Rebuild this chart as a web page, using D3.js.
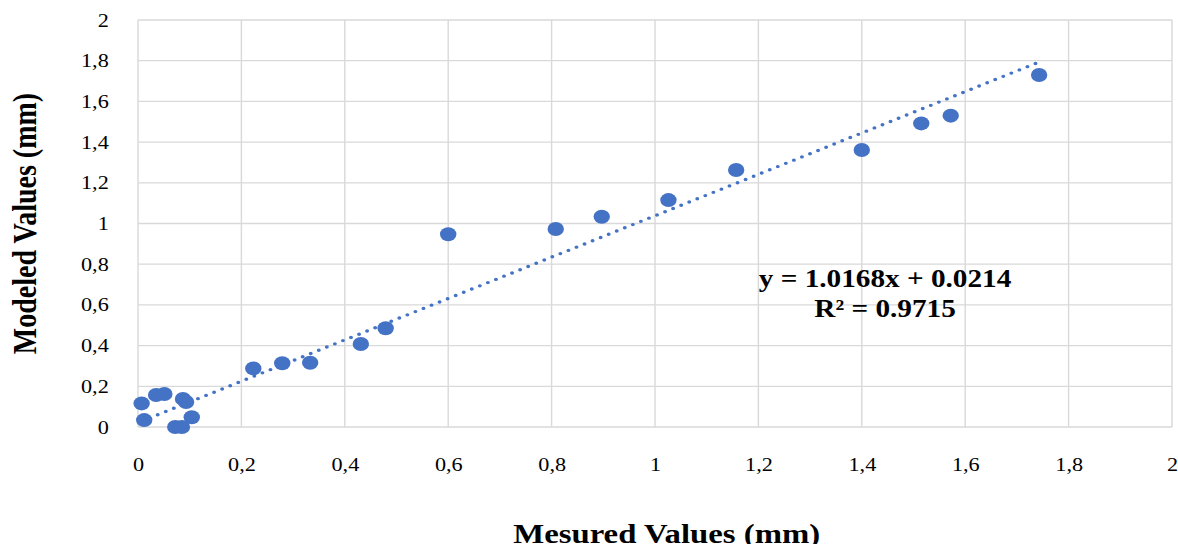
<!DOCTYPE html>
<html>
<head>
<meta charset="utf-8">
<script src="https://cdn.jsdelivr.net/npm/d3@7"></script>
<style>
  body { margin: 0; background: #fff; }
  svg { display: block; }
  text { font-family: "Liberation Serif", "Times New Roman", serif; fill: #000; }
</style>
</head>
<body>
<script>
// measured vs modeled (mm)
var measured = [0.007, 0.012, 0.035, 0.051, 0.072, 0.085, 0.087, 0.093, 0.104,
                0.223, 0.279, 0.333, 0.431, 0.479, 0.600, 0.808, 0.897, 1.026,
                1.157, 1.400, 1.515, 1.572, 1.743];
var modeled  = [0.116, 0.034, 0.157, 0.162, 0, 0, 0.138, 0.123, 0.048,
                0.288, 0.313, 0.316, 0.408, 0.485, 0.947, 0.973, 1.033, 1.115,
                1.263, 1.361, 1.492, 1.530, 1.730];
var xTicks = [0, 0.2, 0.4, 0.6, 0.8, 1, 1.2, 1.4, 1.6, 1.8, 2];
var yTicks = [0, 0.2, 0.4, 0.6, 0.8, 1, 1.2, 1.4, 1.6, 1.8, 2];
var slope = 1.0168, intercept = 0.0214, r2 = 0.9715;

var w = 1178, h = 544;
var sx = 1.17;   // the original picture is stretched sideways
var serif = "'Liberation Serif', 'Times New Roman', serif";

var x = d3.scaleLinear().domain([0, 2]).range([138 / sx, 1172 / sx]);
var y = d3.scaleLinear().domain([0, 2]).range([427, 20]);
var fmt = function(d){ return String(d).replace(".", ","); };

var svg = d3.select("body").append("svg")
    .attr("width", w)
    .attr("height", h)
    .attr("font-family", serif);

var g = svg.append("g").attr("transform", "scale(" + sx + ",1)");

// grid
g.selectAll(".vgrid")
    .data(xTicks)
    .enter().append("line")
    .attr("x1", function(d){ return x(d); })
    .attr("x2", function(d){ return x(d); })
    .attr("y1", y(0)).attr("y2", y(2))
    .attr("stroke", "#d9d9d9").attr("stroke-width", 1.2);

g.selectAll(".hgrid")
    .data(yTicks)
    .enter().append("line")
    .attr("x1", x(0)).attr("x2", x(2))
    .attr("y1", function(d){ return y(d); })
    .attr("y2", function(d){ return y(d); })
    .attr("stroke", "#d9d9d9").attr("stroke-width", 1.3);

// axes (labels only)
var xAxis = d3.axisBottom(x).tickValues(xTicks).tickFormat(fmt).tickSize(0).tickPadding(31);
var yAxis = d3.axisLeft(y).tickValues(yTicks).tickFormat(fmt).tickSize(0).tickPadding(25);

g.append("g")
    .attr("transform", "translate(0," + y(0) + ")")
    .call(xAxis)
    .call(function(s){ s.select(".domain").remove(); })
    .selectAll("text")
    .style("font-size", "19px")
    .style("font-family", serif);

g.append("g")
    .attr("transform", "translate(" + x(0) + ",0)")
    .call(yAxis)
    .call(function(s){ s.select(".domain").remove(); })
    .selectAll("text")
    .style("font-size", "19px")
    .style("font-family", serif);

// trendline
var x0 = d3.min(measured), x1 = d3.max(measured);
g.append("line")
    .attr("x1", x(x0)).attr("y1", y(slope * x0 + intercept))
    .attr("x2", x(x1)).attr("y2", y(slope * x1 + intercept))
    .attr("stroke", "#4472c4")
    .attr("stroke-width", 3.4)
    .attr("stroke-linecap", "round")
    .attr("stroke-dasharray", "0 7.6");

// points
g.selectAll(".pt")
    .data(measured)
    .enter().append("circle")
    .attr("class", "pt")
    .attr("cx", function(d){ return x(d); })
    .attr("cy", function(d, i){ return y(modeled[i]); })
    .attr("r", 7)
    .attr("fill", "#4472c4");

// equation
g.append("text")
    .attr("x", x(1.445)).attr("y", y(0.688))
    .attr("text-anchor", "middle")
    .style("font-size", "25px").style("font-weight", "bold")
    .text("y = " + slope.toFixed(4) + "x + " + intercept.toFixed(4));
g.append("text")
    .attr("x", x(1.445)).attr("y", y(0.541))
    .attr("text-anchor", "middle")
    .style("font-size", "25px").style("font-weight", "bold")
    .text("R² = " + r2.toFixed(4));

// titles
g.append("text")
    .attr("x", (x(0) + x(2)) / 2 + 10)
    .attr("y", 543)
    .attr("text-anchor", "middle")
    .style("font-size", "28px").style("font-weight", "bold")
    .text("Mesured Values (mm)");

g.append("text")
    .attr("transform", "translate(" + (36 / sx) + "," + ((y(0) + y(2)) / 2) + ") rotate(-90)")
    .attr("text-anchor", "middle")
    .style("font-size", "28px").style("font-weight", "bold")
    .text("Modeled Values (mm)");
</script>
</body>
</html>
